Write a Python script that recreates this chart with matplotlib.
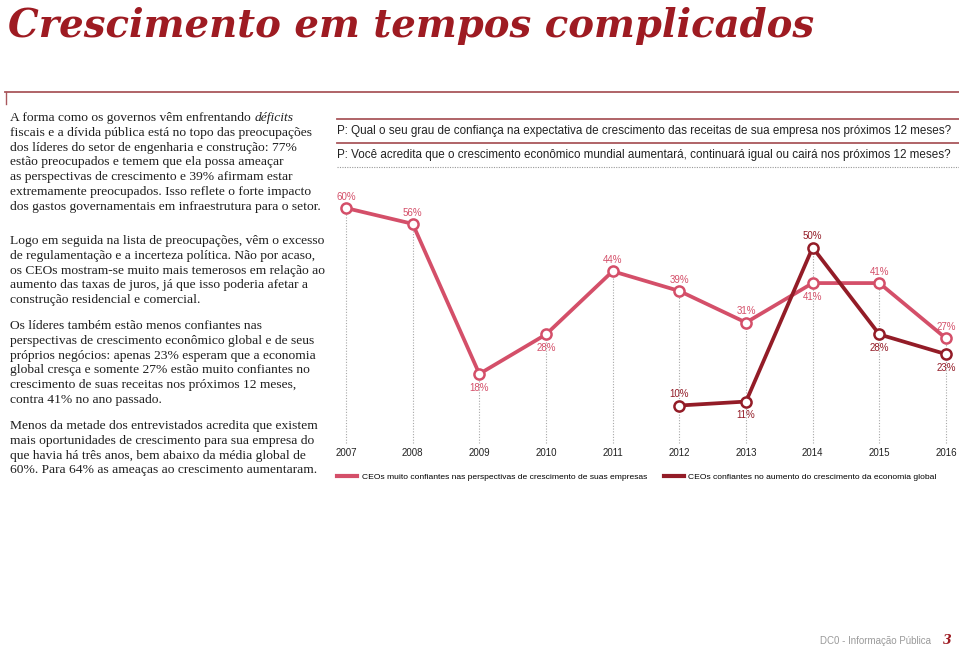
import matplotlib
matplotlib.use("Agg")
import matplotlib.pyplot as plt
from matplotlib.lines import Line2D

# dados do gráfico
anos = [2007, 2008, 2009, 2010, 2011, 2012, 2013, 2014, 2015, 2016]
confianca_empresa = [60, 56, 18, 28, 44, 39, 31, 41, 41, 27]
anos_economia = [2012, 2013, 2014, 2015, 2016]
confianca_economia = [10, 11, 50, 28, 23]

titulo = "Crescimento em tempos complicados"
pergunta_1 = "P: Qual o seu grau de confiança na expectativa de crescimento das receitas de sua empresa nos próximos 12 meses?"
pergunta_2 = "P: Você acredita que o crescimento econômico mundial aumentará, continuará igual ou cairá nos próximos 12 meses?"
legenda_1 = "CEOs muito confiantes nas perspectivas de crescimento de suas empresas"
legenda_2 = "CEOs confiantes no aumento do crescimento da economia global"
rodape = "DC0 - Informação Pública"
pagina = "3"

paragrafo_1 = ["A forma como os governos vêm enfrentando ",
               "fiscais e a dívida pública está no topo das preocupações",
               "dos líderes do setor de engenharia e construção: 77%",
               "estão preocupados e temem que ela possa ameaçar",
               "as perspectivas de crescimento e 39% afirmam estar",
               "extremamente preocupados. Isso reflete o forte impacto",
               "dos gastos governamentais em infraestrutura para o setor."]
paragrafo_2 = ["Logo em seguida na lista de preocupações, vêm o excesso",
               "de regulamentação e a incerteza política. Não por acaso,",
               "os CEOs mostram-se muito mais temerosos em relação ao",
               "aumento das taxas de juros, já que isso poderia afetar a",
               "construção residencial e comercial."]
paragrafo_3 = ["Os líderes também estão menos confiantes nas",
               "perspectivas de crescimento econômico global e de seus",
               "próprios negócios: apenas 23% esperam que a economia",
               "global cresça e somente 27% estão muito confiantes no",
               "crescimento de suas receitas nos próximos 12 meses,",
               "contra 41% no ano passado."]
paragrafo_4 = ["Menos da metade dos entrevistados acredita que existem",
               "mais oportunidades de crescimento para sua empresa do",
               "que havia há três anos, bem abaixo da média global de",
               "60%. Para 64% as ameaças ao crescimento aumentaram."]

ROSA = "#d44f69"
VINHO = "#931c27"
VERMELHO_TITULO = "#9e1b22"
LINHA = "#a9575c"

W, H = 959, 648


def fx(x):
    return x / W


def fy(y):
    return 1 - y / H


fig = plt.figure(figsize=(W / 100, H / 100), dpi=100)
fig.patch.set_facecolor("white")

# título e régua
fig.text(fx(8), fy(37), titulo, fontsize=27.8, family="DejaVu Serif", weight="bold",
         style="italic", color=VERMELHO_TITULO, va="baseline", ha="left")
fig.add_artist(Line2D([fx(5), fx(959)], [fy(92), fy(92)], color=LINHA, lw=1.3,
                      transform=fig.transFigure))
fig.add_artist(Line2D([fx(5.5), fx(5.5)], [fy(92), fy(104)], color=LINHA, lw=1.0,
                      transform=fig.transFigure))

# texto da esquerda
corpo = dict(fontsize=9.7, family="Liberation Serif", color="#1e1e1e", va="center", ha="left")
renderer = fig.canvas.get_renderer()
passo = 14.8
for i, linha in enumerate(paragrafo_1):
    y = 118 + i * passo
    t = fig.text(fx(10), fy(y), linha, **corpo)
    if i == 0:
        bb = t.get_window_extent(renderer)
        fig.text(fx(10 + bb.width), fy(y), "déficits", **corpo, style="italic")
for par, y0 in [(paragrafo_2, 241), (paragrafo_3, 326), (paragrafo_4, 426)]:
    for j, linha in enumerate(par):
        fig.text(fx(10), fy(y0 + j * passo), linha, **corpo)

# perguntas
sans = "Liberation Sans"
fig.add_artist(Line2D([fx(337), fx(959)], [fy(119), fy(119)], color=LINHA, lw=1.3,
                      transform=fig.transFigure))
fig.text(fx(337), fy(131), pergunta_1, fontsize=8.4, family=sans, color="#222222", va="center")
fig.add_artist(Line2D([fx(337), fx(959)], [fy(143), fy(143)], color=LINHA, lw=1.3,
                      transform=fig.transFigure))
fig.text(fx(337), fy(155), pergunta_2, fontsize=8.4, family=sans, color="#222222", va="center")
fig.add_artist(Line2D([fx(337), fx(959)], [fy(167), fy(167)], color="#999999", lw=0.8,
                      linestyle=(0, (1, 1.2)), transform=fig.transFigure))

# gráfico de linhas
ax = fig.add_axes([fx(330), fy(445), (959 - 330) / W, (445 - 180) / H])
ax.set_xlim(2006.76, 2016.195)
ax.set_ylim(0, 67.1)
ax.axis("off")

topo = dict(zip(anos, confianca_empresa))
for a, v in zip(anos_economia, confianca_economia):
    topo[a] = max(topo[a], v)
for a in anos:
    ax.vlines(a, 0.4, topo[a], colors="#a8a8a8", linestyles=(0, (1, 1.5)), lw=0.8, zorder=1)
    ax.annotate(str(a), (a, 0), xytext=(0, -6), textcoords="offset points", ha="center",
                va="center", fontsize=7, family=sans, color="#222222")

ax.plot(anos, confianca_empresa, color=ROSA, lw=2.7, marker="o", ms=7.3, mfc="white",
        mec=ROSA, mew=1.8, zorder=3, solid_joinstyle="round")
ax.plot(anos_economia, confianca_economia, color=VINHO, lw=2.7, marker="o", ms=7.3,
        mfc="white", mec=VINHO, mew=1.8, zorder=4, solid_joinstyle="round")

# rótulos: acima (+) ou abaixo (-)
lado_empresa = [1, 1, -1, -1, 1, 1, 1, -1, 1, 1]
lado_economia = [1, -1, 1, -1, -1]
for a, v, s in zip(anos, confianca_empresa, lado_empresa):
    ax.annotate(f"{v}%", (a, v), xytext=(0, 8 if s > 0 else -10), textcoords="offset points",
                ha="center", va="center", fontsize=7, family=sans, color=ROSA)
for a, v, s in zip(anos_economia, confianca_economia, lado_economia):
    ax.annotate(f"{v}%", (a, v), xytext=(0, 8 if s > 0 else -10), textcoords="offset points",
                ha="center", va="center", fontsize=7, family=sans, color=VINHO)

# legenda
handles = [Line2D([], [], color=ROSA, lw=3), Line2D([], [], color=VINHO, lw=3)]
fig.legend(handles, [legenda_1, legenda_2], loc="center left",
           bbox_to_anchor=(fx(337), fy(477)), ncol=2, frameon=False,
           prop={"family": sans, "size": 6.1}, handlelength=2.4, handletextpad=0.5,
           columnspacing=2.0, borderaxespad=0, borderpad=0)

# rodapé
fig.text(fx(820), fy(641), rodape, fontsize=7, family=sans, color="#9a9a9a", va="center")
fig.text(fx(943), fy(641), pagina, fontsize=9, family="DejaVu Serif", weight="bold",
         style="italic", color=VERMELHO_TITULO, va="center")

fig.savefig("out.png", dpi=100)
